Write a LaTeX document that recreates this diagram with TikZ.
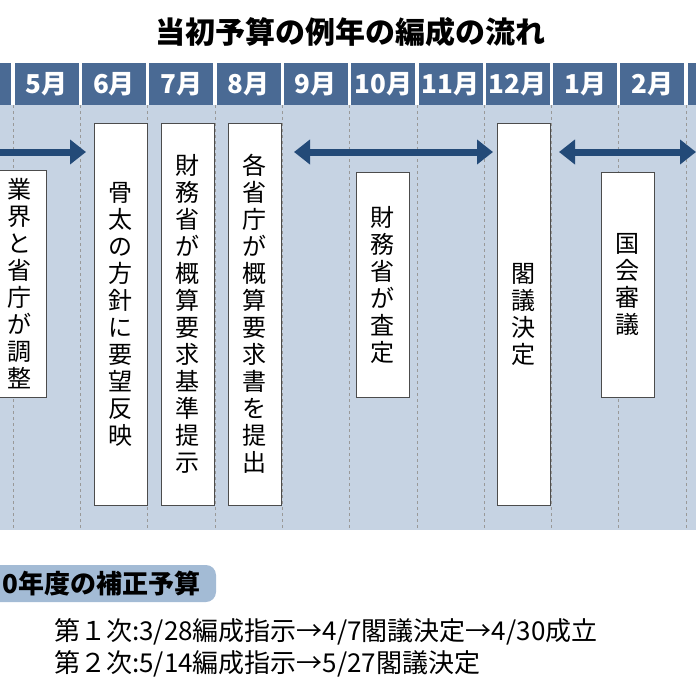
\documentclass[tikz,border=0pt]{standalone}
\usepackage{fontspec}
\setmainfont{Noto Sans CJK JP}
\usetikzlibrary{arrows.meta, positioning}
\definecolor{headblue}{HTML}{4A6A94}
\definecolor{bgblue}{HTML}{C6D3E3}
\definecolor{navy}{HTML}{234A78}
\definecolor{tagblue}{HTML}{A3BBD5}

\begin{document}
\begin{tikzpicture}[x=1pt, y=-1pt,
    month/.style={fill=headblue, text=white, font=\bfseries\fontsize{26}{26}\selectfont, minimum width=64pt, minimum height=42pt, inner sep=0pt},
    vbox/.style={rectangle, draw=black!70, fill=white, minimum width=53pt, inner sep=0pt, align=center, font=\fontsize{24}{27}\selectfont},
    bigarrow/.style={draw=navy, line width=7pt, {Triangle[length=16pt,width=24pt]}-{Triangle[length=16pt,width=24pt]}},
    onearrow/.style={draw=navy, line width=7pt, -{Triangle[length=16pt,width=24pt]}}
]
    \useasboundingbox (0,0) rectangle (696,696);
    % background and month columns
    \fill[bgblue] (0,105) rectangle (696,530);
    \fill[headblue] (0,63) rectangle (11,105);
    \fill[headblue] (688,63) rectangle (696,105);
    \foreach \m [count=\i] in {5,6,7,8,9,10,11,12,1,2} {
        \node[month] (m\i) at ({13+67.3*\i-33.6},84) {\m 月};
    }
    \foreach \i in {0,...,10} {
        \draw[black!40, dashed, line width=0.6pt] ({13+67.3*\i},105) -- ({13+67.3*\i},530);
    }
    \node[font=\bfseries\fontsize{30}{30}\selectfont] (title) at (350,32) {当初予算の例年の編成の流れ};

    % boxes
    \node[vbox, minimum height=227pt] (adjust) at (20,283.5) {業\\界\\と\\省\\庁\\が\\調\\整};
    \node[vbox, minimum height=382pt] (honebuto) at (120.5,314) {骨\\太\\の\\方\\針\\に\\要\\望\\反\\映};
    \node[vbox, minimum height=382pt] (kijun) at (187.5,314) {財\\務\\省\\が\\概\\算\\要\\求\\基\\準\\提\\示};
    \node[vbox, minimum height=382pt] (yokyu) at (254.5,314) {各\\省\\庁\\が\\概\\算\\要\\求\\書\\を\\提\\出};
    \node[vbox, minimum height=225pt] (satei) at (382.5,284.5) {財\\務\\省\\が\\査\\定};
    \node[vbox, minimum height=382pt] (kakugi) at (523.5,314) {閣\\議\\決\\定};
    \node[vbox, minimum height=225pt] (kokkai) at (627.5,284.5) {国\\会\\審\\議};

    % arrows
    \coordinate (a0) at (0,152);
    \coordinate (a1) at (86,152);
    \coordinate (b0) at (294,152);
    \coordinate (b1) at (493,152);
    \coordinate (c0) at (559,152);
    \coordinate (c1) at (696,152);
    \draw[onearrow] (a0) -- (a1);
    \draw[bigarrow] (b0) -- (b1);
    \draw[bigarrow] (c0) -- (c1);

    % supplementary budget
    \fill[tagblue, rounded corners=10pt] (-20,565) rectangle (216,602);
    \node[anchor=west, font=\bfseries\fontsize{26}{26}\selectfont, inner sep=0pt] (tag) at (2,583.5) {0年度の補正予算};
    \node[anchor=west, font=\fontsize{26}{26}\selectfont, inner sep=0pt] (line1) at (54,632) {第１次:3/28編成指示→4/7閣議決定→4/30成立};
    \node[anchor=west, font=\fontsize{26}{26}\selectfont, inner sep=0pt] (line2) at (54,664) {第２次:5/14編成指示→5/27閣議決定};
\end{tikzpicture}
\end{document}
